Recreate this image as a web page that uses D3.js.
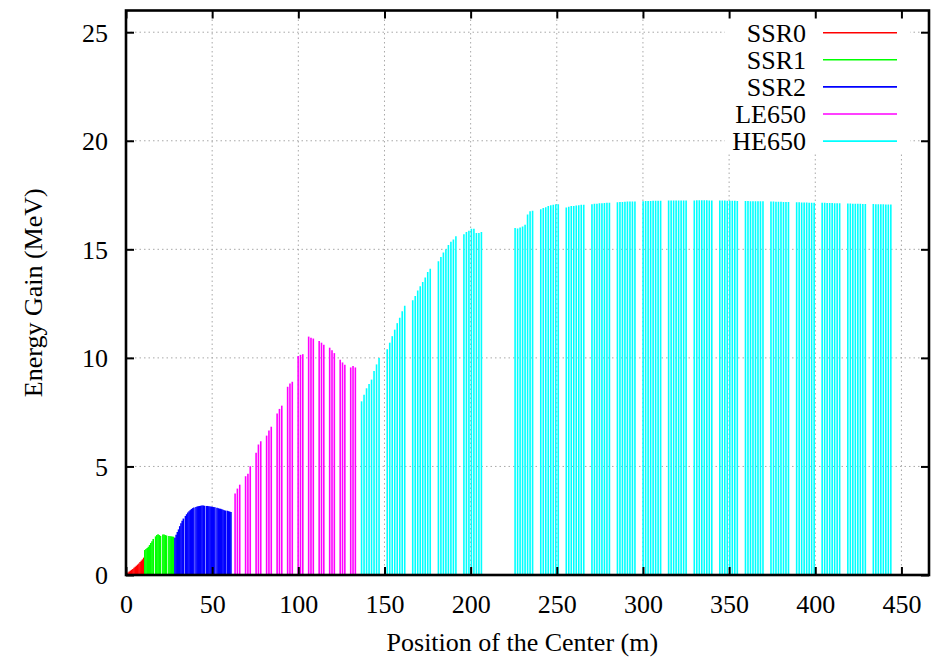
<!DOCTYPE html>
<html lang="en">
  <head>
    <meta charset="utf-8">
    <script src="https://d3js.org/d3.v7.min.js"></script>
    <style>
      html, body { margin: 0; padding: 0; background: #fff; overflow: hidden; }
      svg { display: block; }
      text { font-family: "Liberation Serif", "Times New Roman", serif; fill: #000; }
    </style>
  </head>
  <body>
    <div id="chart">
      <svg width="943" height="657"></svg>
    </div>
    <script type="text/javascript">
      // tick labels
      var xTicks = [0, 50, 100, 150, 200, 250, 300, 350, 400, 450];
      var yTicks = [0, 5, 10, 15, 20, 25];
      var seriesNames = ["SSR0", "SSR1", "SSR2", "LE650", "HE650"];
      var seriesColors = ["#ff0000", "#00ff00", "#0000ff", "#ff00ff", "#00ffff"];

      // SSR0: cavity positions (m) and energy gain (MeV)
      var ssr0Pos = [0.5, 1.2, 1.9, 2.6, 3.3, 4.0, 4.7, 5.4, 6.1, 6.8, 7.5, 8.2, 8.9, 9.6, 10.3];
      var ssr0Gain = [0.08, 0.12, 0.16, 0.2, 0.24, 0.28, 0.33, 0.38, 0.43, 0.48, 0.53, 0.6, 0.66, 0.72, 0.8];

      // SSR1
      var ssr1Pos = [10.9, 11.6, 12.3, 13.0, 13.7, 14.4, 15.1, 15.8,
                     17.2, 17.9, 18.6, 19.3, 20.0,
                     21.4, 22.1, 22.8, 23.5,
                     24.9, 25.6, 26.3, 27.0, 27.6];
      var ssr1Gain = [1.15, 1.2, 1.24, 1.3, 1.38, 1.47, 1.56, 1.66,
                      1.78, 1.84, 1.88, 1.84, 1.8,
                      1.86, 1.86, 1.84, 1.82,
                      1.8, 1.79, 1.78, 1.77, 1.76];

      // SSR2
      var ssr2Pos = [28.4, 29.1, 29.8, 30.5, 31.2, 31.9, 32.6, 33.3,
                     34.5, 35.2, 35.9, 36.6, 37.3, 38.0, 38.7, 39.4,
                     40.6, 41.3, 42.0, 42.7, 43.4, 44.1, 44.8, 45.5,
                     46.7, 47.4, 48.1, 48.8, 49.5, 50.2, 50.9, 51.6,
                     52.8, 53.5, 54.2, 54.9, 55.6, 56.3, 57.0, 57.7,
                     58.8, 59.5, 60.2, 60.9];
      var ssr2Gain = [1.72, 1.85, 1.98, 2.1, 2.25, 2.38, 2.5, 2.6,
                      2.72, 2.8, 2.88, 2.94, 2.99, 3.04, 3.08, 3.11,
                      3.13, 3.15, 3.17, 3.18, 3.19, 3.2, 3.2, 3.19,
                      3.18, 3.18, 3.17, 3.16, 3.15, 3.14, 3.13, 3.12,
                      3.1, 3.08, 3.06, 3.05, 3.03, 3.0, 2.98, 2.97,
                      2.96, 2.94, 2.92, 2.9];

      // LE650: cryomodule start (m), cavity offsets in module (m), gains per cavity
      var le650ModStart = [63.3, 69.4, 75.5, 81.6, 87.7, 93.8, 99.9, 106.0, 112.1, 118.2, 124.3, 130.4];
      var le650CavOffset = [0, 1.35, 2.7];
      var le650Gain = [3.75, 3.98, 4.16,
                       4.55, 4.66, 5.01,
                       5.63, 6.01, 6.16,
                       6.42, 6.65, 6.83,
                       7.44, 7.65, 7.8,
                       8.67, 8.82, 8.9,
                       10.09, 10.14, 10.17,
                       10.98, 10.93, 10.89,
                       10.78, 10.7, 10.6,
                       10.47, 10.35, 10.22,
                       9.91, 9.79, 9.68,
                       9.56, 9.63, 9.56];

      // HE650
      var he650ModStart = [136.7, 151.6, 166.4, 181.3, 196.1, 225.8, 240.7, 255.5, 270.4, 285.2,
                           300.1, 314.9, 329.8, 344.6, 359.5, 374.3, 389.2, 404.0, 418.9, 433.7];
      var he650CavOffset = [0, 1.45, 2.9, 4.35, 5.8, 7.25, 8.7, 10.15];
      var he650Gain = [8.0, 8.3, 8.6, 8.8, 9.0, 9.4, 9.7, 10.0,
                       10.4, 10.7, 11.0, 11.3, 11.6, 11.85, 12.15, 12.4,
                       12.65, 12.85, 13.1, 13.3, 13.5, 13.7, 13.95, 14.1,
                       14.45, 14.65, 14.85, 15.0, 15.2, 15.35, 15.45, 15.6,
                       15.7, 15.8, 15.85, 15.95, 15.95, 15.75, 15.75, 15.8,
                       15.98, 15.96, 16.0, 16.05, 16.13, 16.6, 16.75, 16.78,
                       16.85, 16.9, 16.94, 17.0, 17.03, 17.05, 17.08, 17.08,
                       16.93, 16.96, 16.99, 17.0, 17.02, 17.03, 17.05, 17.05,
                       17.08, 17.1, 17.1, 17.12, 17.12, 17.13, 17.14, 17.15,
                       17.17, 17.18, 17.18, 17.19, 17.2, 17.2, 17.2, 17.2,
                       17.22, 17.23, 17.23, 17.23, 17.24, 17.24, 17.24, 17.24,
                       17.25, 17.25, 17.25, 17.25, 17.25, 17.25, 17.25, 17.25,
                       17.25, 17.26, 17.26, 17.26, 17.26, 17.26, 17.25, 17.25,
                       17.25, 17.25, 17.25, 17.24, 17.24, 17.24, 17.24, 17.23,
                       17.23, 17.23, 17.22, 17.22, 17.22, 17.21, 17.21, 17.21,
                       17.2, 17.2, 17.19, 17.19, 17.19, 17.18, 17.18, 17.18,
                       17.17, 17.17, 17.16, 17.16, 17.16, 17.15, 17.15, 17.15,
                       17.14, 17.14, 17.13, 17.13, 17.13, 17.12, 17.12, 17.12,
                       17.11, 17.11, 17.1, 17.1, 17.1, 17.1, 17.09, 17.09,
                       17.09, 17.08, 17.08, 17.08, 17.08, 17.07, 17.07, 17.07];

      // SVG and dimensions
      var svg = d3.select("svg"),
        width = +svg.attr("width"),
        height = +svg.attr("height");
      var margin = {top: 10.5, right: 14, bottom: 82, left: 126};
      var innerWidth = width - margin.left - margin.right;
      var innerHeight = height - margin.top - margin.bottom;

      var xScale = d3.scaleLinear().domain([0, 466]).range([0, innerWidth]);
      var yScale = d3.scaleLinear().domain([0, 26]).range([innerHeight, 0]);

      var g = svg.append("g")
        .attr("transform", `translate(${margin.left},${margin.top})`);

      // grid (dotted)
      var grid = g.append("g").attr("class", "grid");
      grid.selectAll(".gx").data(xTicks.slice(1)).enter().append("line")
        .attr("x1", d => xScale(d)).attr("x2", d => xScale(d))
        .attr("y1", 0).attr("y2", innerHeight);
      grid.selectAll(".gy").data(yTicks.slice(1)).enter().append("line")
        .attr("x1", 0).attr("x2", innerWidth)
        .attr("y1", d => yScale(d)).attr("y2", d => yScale(d));
      grid.selectAll("line")
        .style("stroke", "#a8a8a8")
        .style("stroke-width", 1)
        .style("stroke-dasharray", "1.5,3");

      // opaque key box
      g.append("rect")
        .attr("x", 725 - margin.left).attr("y", 0)
        .attr("width", 185).attr("height", 153 - margin.top)
        .style("fill", "#fff");

      // build impulse points
      function pairs(pos, gain) {
        return pos.map((p, i) => ({x: p, e: gain[i]}));
      }
      function modules(starts, offsets, gain) {
        var out = [];
        starts.forEach((s, m) => {
          offsets.forEach((o, c) => {
            out.push({x: s + o, e: gain[m * offsets.length + c]});
          });
        });
        return out;
      }
      var series = [
        pairs(ssr0Pos, ssr0Gain),
        pairs(ssr1Pos, ssr1Gain),
        pairs(ssr2Pos, ssr2Gain),
        modules(le650ModStart, le650CavOffset, le650Gain),
        modules(he650ModStart, he650CavOffset, he650Gain)
      ];

      series.forEach((pts, k) => {
        g.append("g").selectAll("line").data(pts).enter().append("line")
          .attr("x1", d => xScale(d.x)).attr("x2", d => xScale(d.x))
          .attr("y1", yScale(0)).attr("y2", d => yScale(d.e))
          .style("stroke", seriesColors[k])
          .style("stroke-width", 1.6);
      });

      // axes with inward ticks, mirrored
      var fs = "26px";
      var xAxis = g.append("g")
        .attr("transform", `translate(0,${innerHeight})`)
        .call(d3.axisBottom(xScale).tickValues(xTicks).tickSize(-8).tickPadding(20));
      var xAxisTop = g.append("g")
        .call(d3.axisTop(xScale).tickValues(xTicks).tickSize(-8));
      var yAxis = g.append("g")
        .call(d3.axisLeft(yScale).tickValues(yTicks).tickSize(-8).tickPadding(18));
      var yAxisRight = g.append("g")
        .attr("transform", `translate(${innerWidth},0)`)
        .call(d3.axisRight(yScale).tickValues(yTicks).tickSize(-8));
      xAxisTop.selectAll("text").remove();
      yAxisRight.selectAll("text").remove();
      [xAxis, xAxisTop, yAxis, yAxisRight].forEach(a => {
        a.select(".domain").remove();
        a.selectAll(".tick line").style("stroke", "#000").style("stroke-width", 2);
        a.selectAll("text").style("font-size", fs).style("font-family", "Liberation Serif");
      });
      yAxis.selectAll(".tick text").attr("dy", "0.34em");

      // border
      g.append("rect")
        .attr("width", innerWidth).attr("height", innerHeight)
        .style("fill", "none").style("stroke", "#000").style("stroke-width", 2.6);

      // legend
      var key = svg.append("g");
      seriesNames.forEach((name, i) => {
        var yy = 32.7 + i * 27.1;
        key.append("text")
          .attr("x", 806).attr("y", yy + 9)
          .attr("text-anchor", "end")
          .style("font-size", fs)
          .text(name);
        key.append("line")
          .attr("x1", 823).attr("x2", 897)
          .attr("y1", yy).attr("y2", yy)
          .style("stroke", seriesColors[i])
          .style("stroke-width", 1.6);
      });

      // axis titles
      svg.append("text")
        .attr("x", margin.left + xScale(230)).attr("y", 651)
        .attr("text-anchor", "middle")
        .style("font-size", fs)
        .text("Position of the Center (m)");
      svg.append("text")
        .attr("transform", `translate(42,${margin.top + yScale(13)}) rotate(-90)`)
        .attr("text-anchor", "middle")
        .style("font-size", fs)
        .text("Energy Gain (MeV)");
    </script>
  </body>
</html>
